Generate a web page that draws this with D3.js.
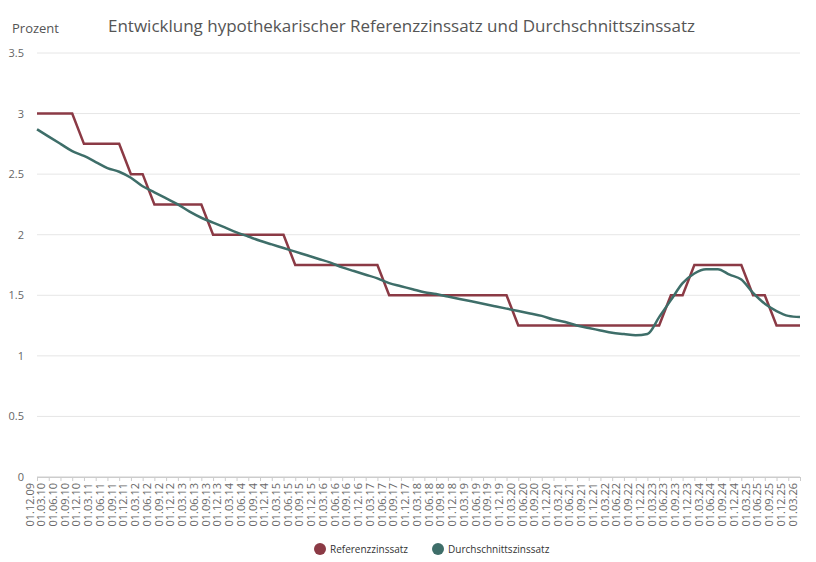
<!DOCTYPE html>
<html><head><meta charset="utf-8">
<script src="https://cdn.jsdelivr.net/npm/d3@7"></script>
<style>body{margin:0;background:#fff;font-family:"Open Sans",sans-serif}</style>
</head><body><svg id="c" width="816" height="562"></svg>
<script>
const dates = [];
(function(){const m=["12","03","06","09"];let y=9,q=0;for(let i=0;i<66;i++){dates.push("01."+m[q]+"."+String(y).padStart(2,"0"));q++;if(q===1)y++;if(q===4)q=0;}})();
const referenz = [3,3,3,3,2.75,2.75,2.75,2.75,2.5,2.5,2.25,2.25,2.25,2.25,2.25,2,2,2,2,2,2,2,1.75,1.75,1.75,1.75,1.75,1.75,1.75,1.75,1.5,1.5,1.5,1.5,1.5,1.5,1.5,1.5,1.5,1.5,1.5,1.25,1.25,1.25,1.25,1.25,1.25,1.25,1.25,1.25,1.25,1.25,1.25,1.25,1.5,1.5,1.75,1.75,1.75,1.75,1.75,1.5,1.5,1.25,1.25,1.25];
const durchschnitt = [2.87,2.81,2.75,2.69,2.65,2.60,2.55,2.52,2.47,2.40,2.35,2.30,2.25,2.19,2.14,2.10,2.06,2.02,1.985,1.95,1.92,1.89,1.86,1.83,1.80,1.77,1.73,1.70,1.67,1.64,1.60,1.575,1.55,1.525,1.51,1.49,1.47,1.45,1.43,1.41,1.39,1.37,1.35,1.33,1.30,1.28,1.25,1.23,1.21,1.19,1.18,1.17,1.18,1.32,1.46,1.60,1.68,1.715,1.715,1.67,1.63,1.52,1.43,1.37,1.33,1.32];
const yTicks = [0,0.5,1,1.5,2,2.5,3,3.5];
const svg = d3.select("#c");
const x = d3.scalePoint().domain(dates).range([37,800]);
const y = d3.scaleLinear().domain([0,3.5]).range([477,53]);
svg.append("g").selectAll("line").data(yTicks).join("line")
 .attr("x1",37).attr("x2",800).attr("y1",d=>y(d)).attr("y2",d=>y(d))
 .attr("stroke",d=>d===0?"#ccc":"#e6e6e6");
svg.append("g").selectAll("text").data(yTicks).join("text")
 .attr("x",24).attr("y",d=>y(d)+4).attr("text-anchor","end").attr("font-size",11).attr("fill","#666").text(d=>d);
const xa = svg.append("g").attr("transform","translate(0,477)").call(d3.axisBottom(x).tickSize(4).tickSizeOuter(0));
xa.select(".domain").attr("stroke","#ccc");
xa.selectAll(".tick line").attr("stroke","#ccc");
xa.selectAll("text").attr("transform","rotate(-90)").attr("x",-6).attr("y",-4).attr("dy",0)
 .attr("text-anchor","end").attr("font-size",11).attr("fill","#666").attr("font-family","Open Sans");
const line = d3.line().x((d,i)=>x(dates[i])).y(d=>y(d));
svg.append("path").datum(referenz).attr("d",line).attr("fill","none").attr("stroke","#8b3a45").attr("stroke-width",2.5);
svg.append("path").datum(durchschnitt).attr("d",line.curve(d3.curveMonotoneX)).attr("fill","none").attr("stroke","#3e6e69").attr("stroke-width",2.5);
svg.append("text").attr("x",12).attr("y",33).attr("font-size",13).attr("fill","#555").text("Prozent");
svg.append("text").attr("x",108).attr("y",32).attr("font-size",17).attr("fill","#555").text("Entwicklung hypothekarischer Referenzzinssatz und Durchschnittszinssatz");
const leg=[["Referenzzinssatz","#8b3a45",320],["Durchschnittszinssatz","#3e6e69",438]];
leg.forEach(l=>{svg.append("circle").attr("cx",l[2]).attr("cy",549).attr("r",6).attr("fill",l[1]);
 svg.append("text").attr("x",l[2]+10).attr("y",553).attr("font-size",10).attr("fill","#333").text(l[0]);});
</script></body></html>
